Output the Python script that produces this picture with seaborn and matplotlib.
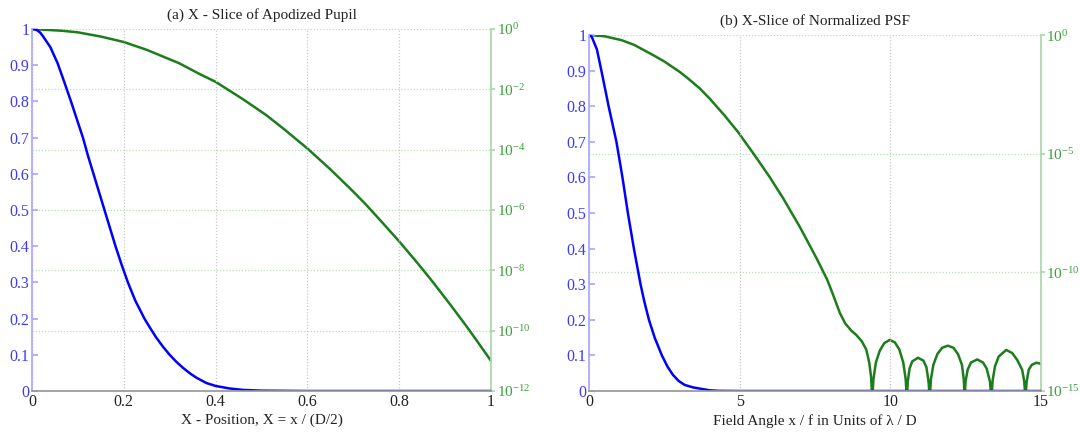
import numpy as np
import pandas as pd
import matplotlib
matplotlib.use("Agg")
import matplotlib.pyplot as plt
import seaborn as sns
from matplotlib.ticker import FixedLocator, NullLocator

# ---------------- data ----------------
# (a) pupil apodization, linear
pupil_x = [0.0, 0.006, 0.012, 0.018, 0.024, 0.04, 0.056, 0.07, 0.085, 0.098, 0.111,
           0.122, 0.134, 0.146, 0.158, 0.17, 0.182, 0.195, 0.209, 0.225, 0.245,
           0.258, 0.27, 0.285, 0.30, 0.315, 0.33, 0.345, 0.358, 0.38, 0.40, 0.43,
           0.46, 0.50, 0.60, 0.80, 1.0]
pupil_lin = [1.0, 0.999, 0.996, 0.99, 0.98, 0.95, 0.905, 0.855, 0.80, 0.75, 0.70,
             0.65, 0.60, 0.55, 0.50, 0.45, 0.40, 0.35, 0.30, 0.25, 0.20,
             0.173, 0.149, 0.123, 0.100, 0.080, 0.063, 0.048, 0.037, 0.022, 0.014,
             0.007, 0.003, 0.001, 0.0, 0.0, 0.0]
# (a) pupil apodization, log10 of value
pupil_log_x = [0.0, 0.067, 0.1, 0.15, 0.2, 0.25, 0.285, 0.32, 0.365, 0.40, 0.429,
               0.46, 0.51, 0.55, 0.6, 0.65, 0.70, 0.727, 0.76, 0.8, 0.84, 0.873,
               0.91, 0.945, 0.97, 1.0]
pupil_log_exp = [0.0, -0.06, -0.11, -0.25, -0.43, -0.69, -0.91, -1.13, -1.49, -1.75,
                 -2.03, -2.33, -2.85, -3.33, -3.96, -4.65, -5.39, -5.81, -6.36,
                 -7.04, -7.76, -8.38, -9.11, -9.82, -10.35, -11.0]

# (b) PSF, linear
psf_x = [0.0, 0.08, 0.25, 0.40, 0.52, 0.64, 0.77, 0.90, 1.0, 1.10, 1.19, 1.28,
         1.38, 1.48, 1.59, 1.70, 1.83, 1.98, 2.17, 2.41, 2.6, 2.78, 2.97, 3.17,
         3.45, 3.72, 4.0, 4.3, 5.0, 10.0, 15.0]
psf_lin = [1.0, 0.995, 0.96, 0.90, 0.85, 0.80, 0.75, 0.70, 0.65, 0.60, 0.55, 0.50,
           0.45, 0.40, 0.35, 0.30, 0.25, 0.20, 0.15, 0.10, 0.068, 0.045, 0.028,
           0.017, 0.010, 0.006, 0.002, 0.0005, 0.0, 0.0, 0.0]
# (b) PSF, log10 of value
psf_log_x = [0.0, 0.5, 1.06, 1.5, 2.17, 2.5, 3.0, 3.28, 3.67, 4.0, 4.5, 4.93, 5.5,
             6.0, 6.44, 7.0, 7.55, 7.9, 8.1, 8.32, 8.5, 8.7, 8.87,
             9.05, 9.2, 9.3, 9.36, 9.40,
             9.44, 9.52, 9.65, 9.80, 9.98, 10.15, 10.30, 10.43, 10.51, 10.55,
             10.58, 10.64, 10.73, 10.92, 11.10, 11.20, 11.27, 11.31,
             11.35, 11.43, 11.56, 11.72, 11.91, 12.10, 12.25, 12.38, 12.44, 12.47,
             12.50, 12.57, 12.68, 12.89, 13.08, 13.20, 13.31, 13.36,
             13.40, 13.48, 13.60, 13.85, 14.05, 14.22, 14.38, 14.45, 14.49,
             14.53, 14.60, 14.70, 14.85, 15.0]
psf_log_exp = [0.0, -0.05, -0.21, -0.42, -0.88, -1.12, -1.55, -1.83, -2.25, -2.68,
               -3.40, -4.07, -5.08, -6.00, -6.88, -8.1, -9.41, -10.3, -10.95, -11.7,
               -12.15, -12.45, -12.64,
               -12.9, -13.25, -13.8, -14.4, -15.3,
               -14.5, -13.8, -13.3, -12.98, -12.85, -12.95, -13.25, -13.8, -14.5, -15.3,
               -14.6, -14.05, -13.75, -13.6, -13.72, -14.0, -14.6, -15.3,
               -14.5, -13.9, -13.45, -13.18, -13.09, -13.18, -13.45, -13.9, -14.5, -15.3,
               -14.6, -14.1, -13.8, -13.67, -13.8, -14.05, -14.6, -15.3,
               -14.55, -13.95, -13.55, -13.27, -13.4, -13.7, -14.1, -14.6, -15.3,
               -14.6, -14.1, -13.9, -13.81, -13.85]

titles = ["(a) X - Slice of Apodized Pupil", "(b) X-Slice of Normalized PSF"]
xlabels = ["X - Position, X = x / (D/2)", "Field Angle x / f in Units of \u03bb / D"]
lin_ticks = [0, 0.1, 0.2, 0.3, 0.4, 0.5, 0.6, 0.7, 0.8, 0.9, 1]
lin_ticklabels = ["0", "0.1", "0.2", "0.3", "0.4", "0.5", "0.6", "0.7", "0.8", "0.9", "1"]
xticks_a = [0, 0.2, 0.4, 0.6, 0.8, 1]
xticklabels_a = ["0", "0.2", "0.4", "0.6", "0.8", "1"]
xticks_b = [0, 5, 10, 15]
xticklabels_b = ["0", "5", "10", "15"]
log_exps_a = [0, -2, -4, -6, -8, -10, -12]
log_exps_b = [0, -5, -10, -15]

# ---------------- styling ----------------
sns.set_theme(style="white")
plt.rcParams['font.family'] = ['Liberation Serif', 'DejaVu Serif']
plt.rcParams['mathtext.fontset'] = 'custom'
plt.rcParams['mathtext.rm'] = 'Liberation Serif'
plt.rcParams['mathtext.it'] = 'Liberation Serif:italic'

BLUE = "#0000ff"
BLUE_TXT = "#3a3aff"
GREEN = "#1c7d1c"
GREEN_TXT = "#3c9f3c"
GREEN_SPINE = "#a8d8a8"
BLUE_SPINE = "#a8a8ff"
GRID_V = "#c8c8c8"
GRID_H = "#b5e0b5"

fig = plt.figure(figsize=(10.8, 4.33), dpi=100)
positions = [[0.0296, 0.097, 0.4250, 0.836], [0.5457, 0.097, 0.4180, 0.822]]

panels = [
    dict(x=pupil_x, y=pupil_lin, lx=pupil_log_x, le=pupil_log_exp, xlim=(0, 1),
         xt=xticks_a, xtl=xticklabels_a, exps=log_exps_a, ylog=(1e-12, 1.0)),
    dict(x=psf_x, y=psf_lin, lx=psf_log_x, le=psf_log_exp, xlim=(0, 15),
         xt=xticks_b, xtl=xticklabels_b, exps=log_exps_b, ylog=(1e-15, 1.0)),
]

for i, p in enumerate(panels):
    ax = fig.add_axes(positions[i])
    ax2 = ax.twinx()

    df_lin = pd.DataFrame({"x": p["x"], "y": p["y"]})
    df_log = pd.DataFrame({"x": p["lx"], "y": np.power(10.0, np.array(p["le"]))})

    ax.set_xlim(*p["xlim"])
    ax.set_xticks(p["xt"])
    ax.set_xticklabels(p["xtl"], fontsize=11.5, color="#222222")
    ax.xaxis.grid(True, linestyle=(0, (1, 1.5)), color=GRID_V, linewidth=0.9)
    ax.yaxis.grid(False)
    ax.set_ylim(0, 1)
    ax.set_yticks(lin_ticks)
    ax.set_yticklabels(lin_ticklabels, fontsize=11.5, color=BLUE_TXT)
    ax.tick_params(axis='y', direction='in', length=4, color=BLUE_SPINE, pad=2)
    ax.tick_params(axis='x', direction='in', length=3, color="#999999", pad=2)

    ax2.set_yscale('log')
    ax2.set_ylim(*p["ylog"])
    ax2.yaxis.set_major_locator(FixedLocator([10.0 ** e for e in p["exps"]]))
    ax2.yaxis.set_minor_locator(NullLocator())
    ax2.set_yticklabels([r"10$^{%d}$" % e for e in p["exps"]], fontsize=11, color=GREEN_TXT)
    ax2.tick_params(axis='y', direction='out', length=3, color=GREEN_SPINE, pad=1)
    ax2.yaxis.grid(True, linestyle=(0, (1, 1.5)), color=GRID_H, linewidth=0.9)
    ax2.xaxis.grid(False)

    sns.lineplot(data=df_log, x="x", y="y", ax=ax2, color=GREEN, linewidth=1.8,
                 estimator=None, sort=False)
    sns.lineplot(data=df_lin, x="x", y="y", ax=ax, color=BLUE, linewidth=1.8,
                 estimator=None, sort=False)
    ax.set_zorder(ax2.get_zorder() + 1)
    ax.patch.set_visible(False)
    ax2.set_xlim(*p["xlim"])

    for a in (ax, ax2):
        a.set_ylabel("")
        a.spines['top'].set_visible(False)
    ax.set_xlabel(xlabels[i], fontsize=11, color="#222222", labelpad=3)
    ax2.set_xlabel("")
    ax.spines['left'].set_color(BLUE_SPINE)
    ax.spines['right'].set_visible(False)
    ax.spines['bottom'].set_color("#999999")
    ax2.spines['left'].set_visible(False)
    ax2.spines['bottom'].set_visible(False)
    ax2.spines['right'].set_color(GREEN_SPINE)
    ax.set_title(titles[i], fontsize=11, color="#222222", pad=7.5)

fig.savefig("out.png", dpi=100)
